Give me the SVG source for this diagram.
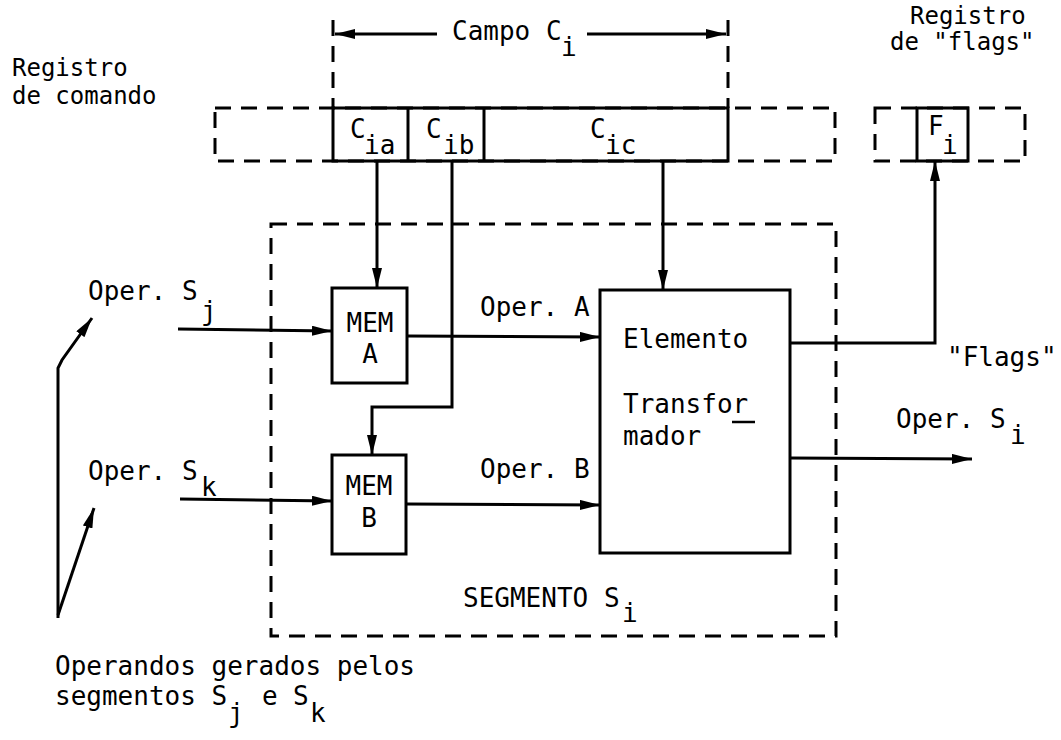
<svg xmlns="http://www.w3.org/2000/svg" width="1061" height="740" viewBox="0 0 1061 740">
<defs>
<marker id="ah" viewBox="0 0 20 10" refX="20" refY="5" markerWidth="20" markerHeight="10" markerUnits="userSpaceOnUse" orient="auto">
<path d="M0,0 L20,5 L0,10 z" fill="#000"/>
</marker>
</defs>
<style>
text{font-family:"DejaVu Sans Mono","Liberation Mono",monospace;font-size:26px;fill:#000}
.t{font-size:24px}
.s{fill:none;stroke:#000;stroke-width:3}
.d{fill:none;stroke:#000;stroke-width:3;stroke-dasharray:16 10}
.c{fill:none;stroke:#000;stroke-width:3;marker-end:url(#ah)}
</style>
<rect width="1061" height="740" fill="#fff"/>

<g id="campo">
<line class="d" x1="333" y1="20" x2="333" y2="108"/>
<line class="d" x1="728" y1="20" x2="728" y2="108"/>
<line class="c" x1="437" y1="34" x2="335" y2="34"/>
<line class="c" x1="587" y1="34" x2="726" y2="34"/>
<text x="452" y="40">Campo C</text>
<text x="561" y="56">i</text>
</g>

<g id="registro-comando">
<text class="t" x="12" y="76">Registro</text>
<text class="t" x="12" y="104">de comando</text>
<rect class="d" x="215" y="108" width="620" height="53"/>
<rect class="s" x="333" y="108" width="395" height="53" fill="#fff"/>
<line class="s" x1="408" y1="108" x2="408" y2="161"/>
<line class="s" x1="484" y1="108" x2="484" y2="161"/>
<text x="350" y="138">C</text>
<text x="364" y="154">ia</text>
<text x="426" y="138">C</text>
<text x="443" y="154">ib</text>
<text x="590" y="138">C</text>
<text x="605" y="154">ic</text>
</g>

<g id="registro-flags">
<text class="t" x="910" y="24">Registro</text>
<text class="t" x="890" y="50">de "flags"</text>
<rect class="d" x="875" y="108" width="150" height="53"/>
<rect class="s" x="917" y="108" width="51" height="53" fill="#fff"/>
<text x="928" y="135">F</text>
<text x="942" y="154">i</text>
</g>

<g id="segmento">
<rect class="d" x="271" y="224" width="565" height="412"/>
<text x="463" y="607">SEGMENTO S</text>
<text x="622" y="622">i</text>
</g>

<g id="mem-a">
<rect class="s" x="332" y="288" width="75" height="95"/>
<text x="370" y="332" text-anchor="middle">MEM</text>
<text x="370" y="363" text-anchor="middle">A</text>
</g>

<g id="mem-b">
<rect class="s" x="332" y="455" width="74" height="99"/>
<text x="369" y="495" text-anchor="middle">MEM</text>
<text x="369" y="527" text-anchor="middle">B</text>
</g>

<g id="elemento">
<rect class="s" x="600" y="290" width="190" height="263"/>
<text x="623" y="348">Elemento</text>
<text x="623" y="413">Transfor</text>
<line x1="732" y1="422" x2="755" y2="422" stroke="#000" stroke-width="2.5"/>
<text x="623" y="445">mador</text>
</g>

<g id="labels">
<text x="88" y="300">Oper. S</text>
<text x="201" y="320">j</text>
<text x="88" y="480">Oper. S</text>
<text x="201" y="496">k</text>
<text x="480" y="316">Oper. A</text>
<text x="480" y="478">Oper. B</text>
<text x="947" y="366">"Flags"</text>
<text x="896" y="428">Oper. S</text>
<text x="1010" y="444">i</text>
<text x="55" y="675">Operandos gerados pelos</text>
<text x="55" y="705">segmentos S</text>
<text x="228" y="722">j</text>
<text x="262" y="705">e</text>
<text x="293" y="705">S</text>
<text x="310" y="722">k</text>
</g>

<g id="connectors">
<line class="c" x1="377" y1="161" x2="377" y2="288"/>
<line class="c" x1="663" y1="161" x2="663" y2="290"/>
<polyline class="c" points="452,161 452,407 372,407 372,455"/>
<line class="c" x1="178" y1="329" x2="332" y2="331"/>
<line class="c" x1="407" y1="336" x2="600" y2="337"/>
<line class="c" x1="180" y1="499" x2="332" y2="501"/>
<line class="c" x1="406" y1="504" x2="600" y2="505"/>
<polyline class="c" points="790,343 935,343 935,161"/>
<line class="c" x1="790" y1="458" x2="972" y2="459"/>
<polyline class="c" points="58,618 58,368 62,360 92,318"/>
<line class="c" x1="58" y1="615" x2="94" y2="508"/>
</g>
</svg>
